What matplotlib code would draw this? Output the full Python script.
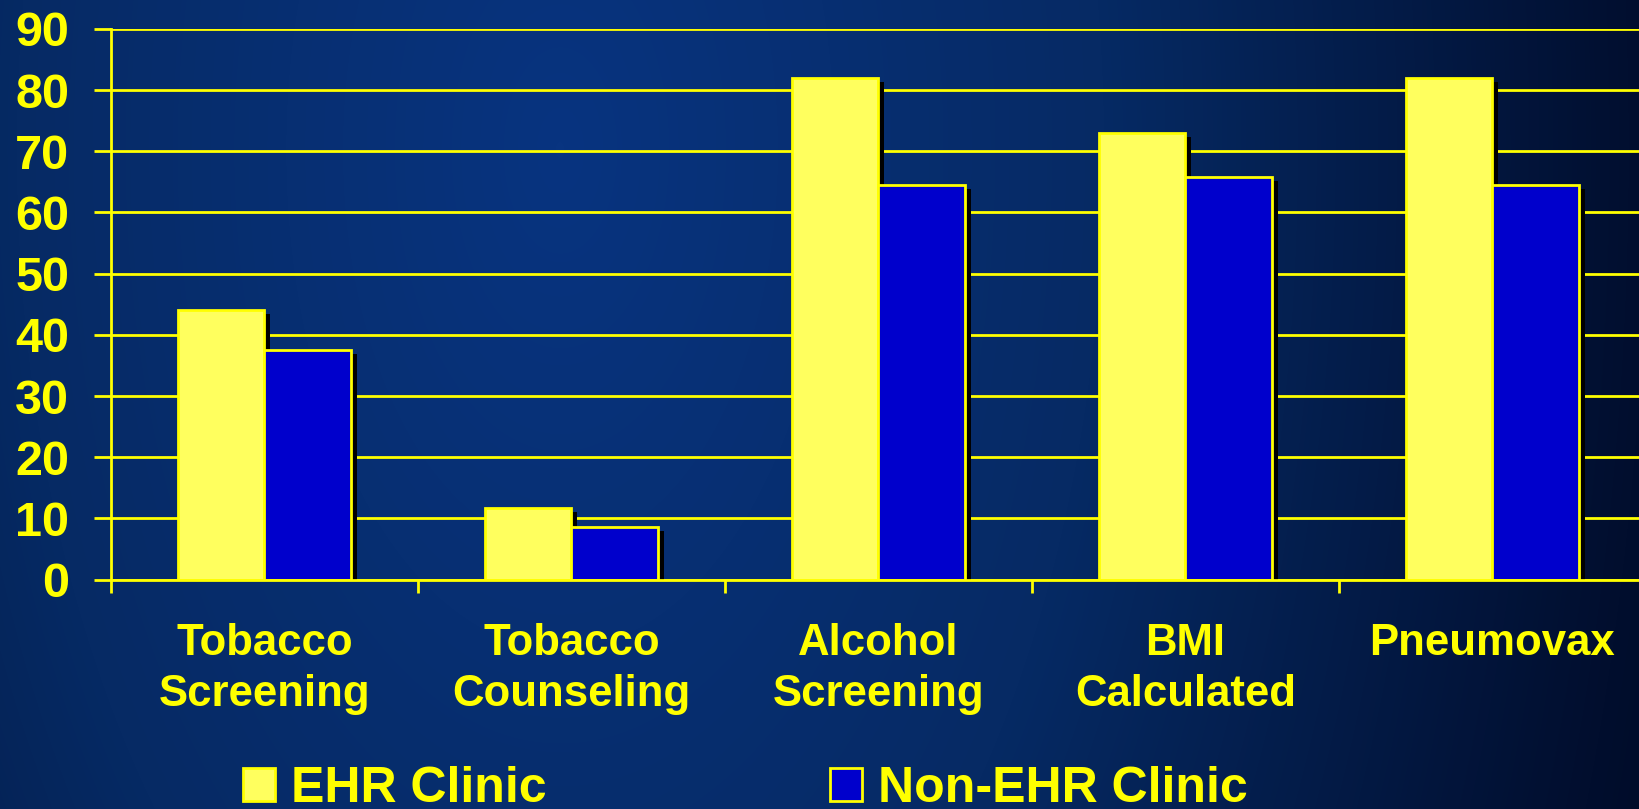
import numpy as np
import matplotlib
matplotlib.use("Agg")
import matplotlib.pyplot as plt
from matplotlib.colors import LinearSegmentedColormap
from matplotlib.transforms import offset_copy

plt.rcParams['font.family'] = ['Liberation Sans', 'DejaVu Sans']
plt.rcParams['font.weight'] = 'bold'

# Chart data
categories = ["Tobacco\nScreening", "Tobacco\nCounseling", "Alcohol\nScreening",
              "BMI\nCalculated", "Pneumovax"]
ehr_clinic = [44, 11.7, 82, 73, 82]
non_ehr_clinic = [37.5, 8.6, 64.5, 65.8, 64.5]
series_names = ["EHR Clinic", "Non-EHR Clinic"]
y_ticks = [0, 10, 20, 30, 40, 50, 60, 70, 80, 90]

YELLOW = "#ffff00"
EHR_FILL = "#ffff5e"
NON_FILL = "#0000cc"
LW = 2.0

W, H, DPI = 1640, 809, 100
fig = plt.figure(figsize=(W / DPI, H / DPI), dpi=DPI)

# Navy slide background with a soft glow toward the upper left
bg = fig.add_axes([0, 0, 1, 1], zorder=-10)
bg.set_axis_off()
xx, yy = np.meshgrid(np.arange(W), np.arange(H))
d = np.sqrt(((xx - 560) / 1100.0) ** 2 + ((yy - 150) / 2000.0) ** 2)
d = np.clip(d, 0, 1.1) / 1.1
cmap = LinearSegmentedColormap.from_list(
    "slide", [(0.0, "#083480"), (0.45, "#062a64"), (0.9, "#010e2e"), (1.0, "#000a24")])
bg.imshow(d, cmap=cmap, aspect="auto", extent=(0, 1, 0, 1), vmin=0, vmax=1,
          interpolation="bilinear")
bg.set_xlim(0, 1)
bg.set_ylim(0, 1)

left = 111 / W
bottom = (H - 579.5) / H
top = (H - 29) / H
right = 1646 / W
ax = fig.add_axes([left, bottom, right - left, top - bottom])
ax.set_facecolor("none")

x = np.arange(len(categories))
bw = 0.283
shadow = offset_copy(ax.transData, fig=fig, x=6, y=-4, units="dots")

# Drop shadows behind each bar
for vals, off in ((ehr_clinic, -bw / 2), (non_ehr_clinic, bw / 2)):
    ax.bar(x + off, vals, width=bw, color="black", linewidth=0,
           transform=shadow, zorder=2)

b1 = ax.bar(x - bw / 2, ehr_clinic, width=bw, color=EHR_FILL,
            edgecolor=YELLOW, linewidth=LW, zorder=3, label=series_names[0])
b2 = ax.bar(x + bw / 2, non_ehr_clinic, width=bw, color=NON_FILL,
            edgecolor=YELLOW, linewidth=LW, zorder=3, label=series_names[1])

ax.set_xlim(-0.5, len(categories) - 0.5)
ax.set_ylim(0, 90)

ax.set_yticks(y_ticks)
ax.set_yticklabels([str(v) for v in y_ticks])
ax.yaxis.grid(True, color=YELLOW, linewidth=LW, zorder=1)
ax.set_axisbelow(True)
ax.tick_params(axis="y", colors=YELLOW, length=12, width=LW, direction="out",
               pad=18, labelsize=35, labelcolor=YELLOW)

ax.set_xticks(x)
ax.set_xticklabels(categories, linespacing=1.32)
ax.set_xticks(np.arange(-0.5, len(categories) - 0.5, 1.0), minor=True)
ax.tick_params(axis="x", which="major", length=0, pad=31, labelsize=31.5,
               labelcolor=YELLOW)
ax.tick_params(axis="x", which="minor", length=9, width=LW, color=YELLOW,
               direction="out")
for lbl in ax.get_xticklabels() + ax.get_yticklabels():
    lbl.set_fontweight("bold")

for side in ("top", "right"):
    ax.spines[side].set_visible(False)
for side in ("left", "bottom"):
    ax.spines[side].set_color(YELLOW)
    ax.spines[side].set_linewidth(LW)
    ax.spines[side].set_zorder(4)

leg = fig.legend(handles=[b1, b2], labels=series_names, loc="center left",
                 bbox_to_anchor=(243 / W, 20 / H), ncol=2, frameon=False,
                 prop={"size": 36, "weight": "bold"}, labelcolor=YELLOW,
                 handlelength=0.64, handleheight=0.66, handletextpad=0.32,
                 columnspacing=5.66, borderpad=0, borderaxespad=0)

fig.savefig("out.png", dpi=DPI)
